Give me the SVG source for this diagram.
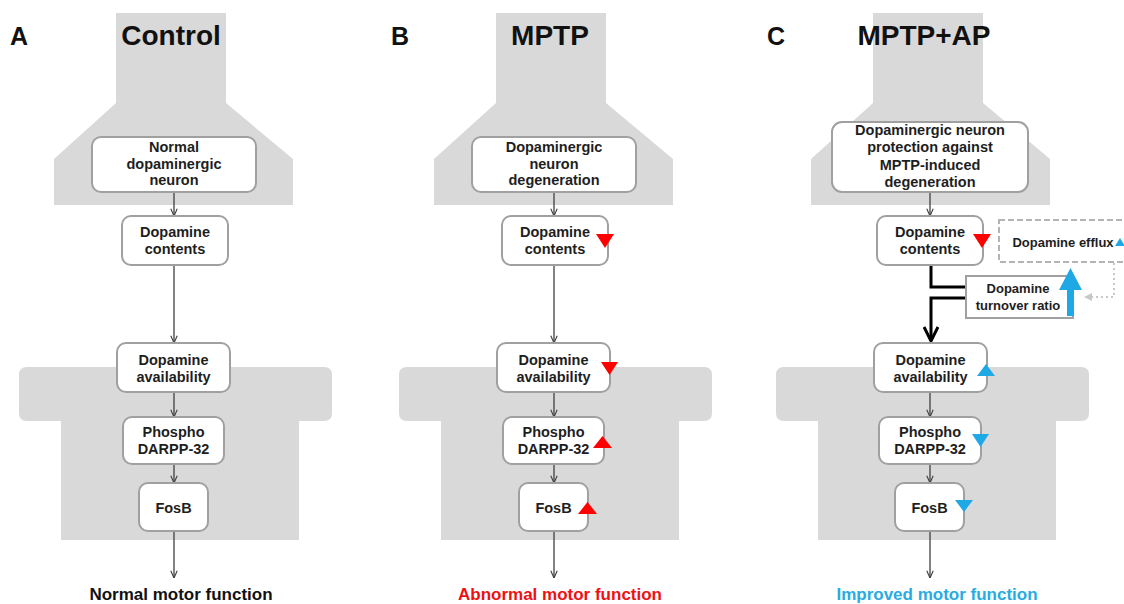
<svg xmlns="http://www.w3.org/2000/svg" width="1124" height="604" viewBox="0 0 1124 604">
<style>
.bg{fill:#d9d9d9}
.nd{fill:#fff;stroke:#a0a0a0;stroke-width:2}
.t{font-family:"Liberation Sans",Arial,sans-serif;font-weight:bold;font-size:14.5px;fill:#1e1e1e;text-anchor:middle}
.s{font-size:13px}
.ttl{font-family:"Liberation Sans",Arial,sans-serif;font-weight:bold;font-size:28px;fill:#111}
.lt{font-family:"Liberation Sans",Arial,sans-serif;font-weight:bold;font-size:25px;fill:#111}
.out{font-family:"Liberation Sans",Arial,sans-serif;font-weight:bold;font-size:17px;text-anchor:middle}
.ar{fill:none;stroke:#404040;stroke-width:1.3;marker-end:url(#a)}
.red{fill:#ff0000}
.blue{fill:#1fa8e6}
</style>
<defs>
<marker id="a" viewBox="0 0 10 10" refX="10" refY="5" markerWidth="8" markerHeight="8" orient="auto" markerUnits="userSpaceOnUse">
<path d="M1,1 L10,5 L1,9" fill="none" stroke="#404040" stroke-width="1.4"/>
</marker>
<marker id="b" viewBox="0 0 16 16" refX="15" refY="8" markerWidth="16" markerHeight="16" orient="auto" markerUnits="userSpaceOnUse">
<path d="M1,1 L15,8 L1,15" fill="none" stroke="#000" stroke-width="3"/>
</marker>
<marker id="g" viewBox="0 0 10 10" refX="9" refY="5" markerWidth="10" markerHeight="10" orient="auto" markerUnits="userSpaceOnUse">
<path d="M1,1 L9,5 L1,9 Z" fill="#c8c8c8"/>
</marker>
<path id="top" d="M116,13 H226 V103 L293,159 V205 H54 V159 L116,103 Z"/>
<path id="band" d="M27,367 H324 Q332,367 332,375 V413 Q332,421 324,421 H299 V540 H61 V421 H27 Q19,421 19,413 V375 Q19,367 27,367 Z"/>
</defs>

<!-- backgrounds -->
<g id="backgrounds">
<use href="#top" class="bg"/>
<use href="#band" class="bg"/>
<use href="#top" class="bg" x="380"/>
<use href="#band" class="bg" x="380"/>
<use href="#top" class="bg" x="757"/>
<use href="#band" class="bg" x="757"/>
</g>

<!-- titles -->
<g id="titles">
<text class="lt" x="10" y="45">A</text>
<text class="ttl" x="171" y="45" text-anchor="middle">Control</text>
<text class="lt" x="391" y="45">B</text>
<text class="ttl" x="550" y="45" text-anchor="middle">MPTP</text>
<text class="lt" x="767" y="45">C</text>
<text class="ttl" x="924" y="45" text-anchor="middle">MPTP+AP</text>
</g>

<!-- connectors -->
<g id="connectors">
<line class="ar" x1="174" y1="192" x2="174" y2="216"/>
<line class="ar" x1="174" y1="265" x2="174" y2="343"/>
<line class="ar" x1="174" y1="392" x2="174" y2="417"/>
<line class="ar" x1="174" y1="464" x2="174" y2="483"/>
<line class="ar" x1="174" y1="531" x2="174" y2="578"/>

<line class="ar" x1="554" y1="192" x2="554" y2="216"/>
<line class="ar" x1="554" y1="265" x2="554" y2="343"/>
<line class="ar" x1="554" y1="392" x2="554" y2="417"/>
<line class="ar" x1="554" y1="464" x2="554" y2="483"/>
<line class="ar" x1="554" y1="531" x2="554" y2="578"/>

<line class="ar" x1="930" y1="192" x2="930" y2="216"/>
<line class="ar" x1="930" y1="392" x2="930" y2="417"/>
<line class="ar" x1="930" y1="464" x2="930" y2="483"/>
<line class="ar" x1="930" y1="531" x2="930" y2="578"/>

<path d="M931,265 V287 H966" fill="none" stroke="#000" stroke-width="3"/>
<path d="M966,298 H931 V341" fill="none" stroke="#000" stroke-width="3" marker-end="url(#b)"/>
<path d="M1114,263 V297 H1084" fill="none" stroke="#c8c8c8" stroke-width="2" stroke-dasharray="2,3" marker-end="url(#g)"/>
</g>

<!-- Panel A -->
<g id="A-neuron">
<rect class="nd" x="92" y="137" width="164" height="55" rx="9"/>
<text class="t" x="174" y="152">Normal</text>
<text class="t" x="174" y="168.5">dopaminergic</text>
<text class="t" x="174" y="185">neuron</text>
</g>
<g id="A-contents">
<rect class="nd" x="122" y="216" width="106" height="49" rx="9"/>
<text class="t" x="175" y="237">Dopamine</text>
<text class="t" x="175" y="254">contents</text>
</g>
<g id="A-availability">
<rect class="nd" x="117" y="343" width="113" height="49" rx="9"/>
<text class="t" x="173.5" y="365">Dopamine</text>
<text class="t" x="173.5" y="382">availability</text>
</g>
<g id="A-darpp">
<rect class="nd" x="123" y="417" width="101" height="47" rx="9"/>
<text class="t" x="173.5" y="437">Phospho</text>
<text class="t" x="173.5" y="453.5">DARPP-32</text>
</g>
<g id="A-fosb">
<rect class="nd" x="139" y="483" width="69" height="48" rx="9"/>
<text class="t" x="173.5" y="513">FosB</text>
</g>
<text class="out" x="181" y="600" fill="#111">Normal motor function</text>

<!-- Panel B -->
<g id="B-neuron">
<rect class="nd" x="472" y="137" width="164" height="55" rx="9"/>
<text class="t" x="554" y="152">Dopaminergic</text>
<text class="t" x="554" y="168.5">neuron</text>
<text class="t" x="554" y="185">degeneration</text>
</g>
<g id="B-contents">
<rect class="nd" x="502" y="216" width="106" height="49" rx="9"/>
<text class="t" x="555" y="237">Dopamine</text>
<text class="t" x="555" y="254">contents</text>
<path class="red" d="M596,234 H614 L605,248 Z"/>
</g>
<g id="B-availability">
<rect class="nd" x="497" y="343" width="113" height="49" rx="9"/>
<text class="t" x="553.5" y="365">Dopamine</text>
<text class="t" x="553.5" y="382">availability</text>
<path class="red" d="M601,362 H618 L609.5,375 Z"/>
</g>
<g id="B-darpp">
<rect class="nd" x="503" y="417" width="101" height="47" rx="9"/>
<text class="t" x="553.5" y="437">Phospho</text>
<text class="t" x="553.5" y="453.5">DARPP-32</text>
<path class="red" d="M593,448 H612 L602.5,436 Z"/>
</g>
<g id="B-fosb">
<rect class="nd" x="519" y="483" width="69" height="48" rx="9"/>
<text class="t" x="553.5" y="513">FosB</text>
<path class="red" d="M578,514 H597 L587.5,502 Z"/>
</g>
<text class="out" x="560" y="600" fill="#ee1111">Abnormal motor function</text>

<!-- Panel C -->
<g id="C-neuron">
<rect class="nd" x="832" y="122" width="196" height="70" rx="10"/>
<text class="t" x="930" y="135">Dopaminergic neuron</text>
<text class="t" x="930" y="152">protection against</text>
<text class="t" x="930" y="169.5">MPTP-induced</text>
<text class="t" x="930" y="186.5">degeneration</text>
</g>
<g id="C-contents">
<rect class="nd" x="877" y="216" width="106" height="49" rx="9"/>
<text class="t" x="930" y="237">Dopamine</text>
<text class="t" x="930" y="254">contents</text>
<path class="red" d="M973,234 H991 L982,248 Z"/>
</g>
<g id="C-efflux">
<rect x="999" y="220" width="140" height="42" fill="none" stroke="#b4b4b4" stroke-width="2" stroke-dasharray="6,3"/>
<text class="t s" x="1063" y="247">Dopamine efflux</text>
<path class="blue" d="M1115,246 H1125 L1120,238 Z"/>
</g>
<g id="C-turnover">
<rect x="966" y="276" width="107" height="42" fill="#fff" stroke="#a0a0a0" stroke-width="2"/>
<text class="t s" x="1018" y="293">Dopamine</text>
<text class="t s" x="1018" y="310">turnover ratio</text>
<path class="blue" d="M1067,316 V290 H1059 L1070.5,268 L1082,290 H1074 V316 Z"/>
</g>
<g id="C-availability">
<rect class="nd" x="874" y="343" width="113" height="49" rx="9"/>
<text class="t" x="930.5" y="365">Dopamine</text>
<text class="t" x="930.5" y="382">availability</text>
<path class="blue" d="M977,376 H995 L986,364 Z"/>
</g>
<g id="C-darpp">
<rect class="nd" x="879" y="417" width="102" height="47" rx="9"/>
<text class="t" x="930" y="437">Phospho</text>
<text class="t" x="930" y="453.5">DARPP-32</text>
<path class="blue" d="M972,434 H989 L980.5,447 Z"/>
</g>
<g id="C-fosb">
<rect class="nd" x="895" y="483" width="69" height="48" rx="9"/>
<text class="t" x="929.5" y="513">FosB</text>
<path class="blue" d="M955,500 H973 L964,512 Z"/>
</g>
<text class="out" x="937" y="600" fill="#29abe2">Improved motor function</text>
</svg>
